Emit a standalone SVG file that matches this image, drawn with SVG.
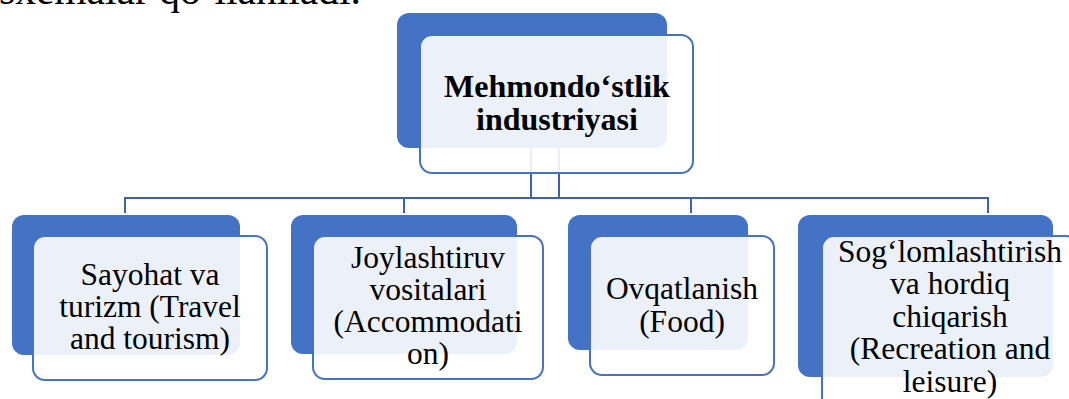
<svg xmlns="http://www.w3.org/2000/svg" width="1069" height="399" viewBox="0 0 1069 399">
  <style>
    .back { fill: #4472C4; }
    .front { fill: #FFFFFF; fill-opacity: 0.9; stroke: #4472C4; stroke-width: 2; }
    .conn { fill: none; stroke: #3A62AD; stroke-width: 2; }
    text { font-family: 'Liberation Serif', 'Tinos', 'DejaVu Serif', serif; fill: #000; }
    .lbl { font-size: 31.5px; text-anchor: middle; }
    .title { font-size: 32px; font-weight: bold; text-anchor: middle; }
    .body { font-size: 41.5px; }
  </style>

  <!-- last line of the paragraph above the chart -->
  <text class="body" x="-1" y="4">sxemalar qo‘llaniladi.</text>

  <!-- connectors (drawn beneath the boxes) -->
  <g id="connectors">
    <line class="conn" x1="531" y1="148" x2="531" y2="198" stroke-width="4"/>
    <line class="conn" x1="559" y1="148" x2="559" y2="198"/>
    <line class="conn" x1="124" y1="198" x2="989" y2="198"/>
    <line class="conn" x1="125" y1="197" x2="125" y2="213"/>
    <line class="conn" x1="404" y1="197" x2="404" y2="213"/>
    <line class="conn" x1="691" y1="197" x2="691" y2="213"/>
    <line class="conn" x1="988" y1="197" x2="988" y2="213"/>
  </g>

  <g id="node-root">
    <rect class="back" x="397" y="13" width="270" height="135" rx="12"/>
    <rect class="front" x="420" y="35" width="273" height="138" rx="12"/>
    <text class="title" x="557" y="97">Mehmondo‘stlik</text>
    <text class="title" x="557" y="130">industriyasi</text>
  </g>

  <g id="node-travel">
    <rect class="back" x="12" y="215" width="228" height="140" rx="12"/>
    <rect class="front" x="33" y="236" width="234" height="144" rx="12"/>
    <text class="lbl" x="150" y="285">Sayohat va</text>
    <text class="lbl" x="150" y="317">turizm (Travel</text>
    <text class="lbl" x="150" y="349">and tourism)</text>
  </g>

  <g id="node-accommodation">
    <rect class="back" x="291" y="215" width="226" height="139" rx="12"/>
    <rect class="front" x="313" y="236" width="230" height="143" rx="12"/>
    <text class="lbl" x="428" y="268">Joylashtiruv</text>
    <text class="lbl" x="428" y="300">vositalari</text>
    <text class="lbl" x="428" y="332">(Accommodati</text>
    <text class="lbl" x="428" y="364">on)</text>
  </g>

  <g id="node-food">
    <rect class="back" x="568" y="215" width="180" height="135" rx="12"/>
    <rect class="front" x="590" y="236" width="184" height="139" rx="12"/>
    <text class="lbl" x="682" y="299">Ovqatlanish</text>
    <text class="lbl" x="682" y="332">(Food)</text>
  </g>

  <g id="node-recreation">
    <rect class="back" x="798" y="215" width="255" height="162" rx="12"/>
    <rect class="front" x="822" y="236" width="256" height="176" rx="12"/>
    <text class="lbl" x="950" y="262">Sog‘lomlashtirish</text>
    <text class="lbl" x="950" y="294">va hordiq</text>
    <text class="lbl" x="950" y="327">chiqarish</text>
    <text class="lbl" x="950" y="359">(Recreation and</text>
    <text class="lbl" x="950" y="392">leisure)</text>
  </g>
</svg>
